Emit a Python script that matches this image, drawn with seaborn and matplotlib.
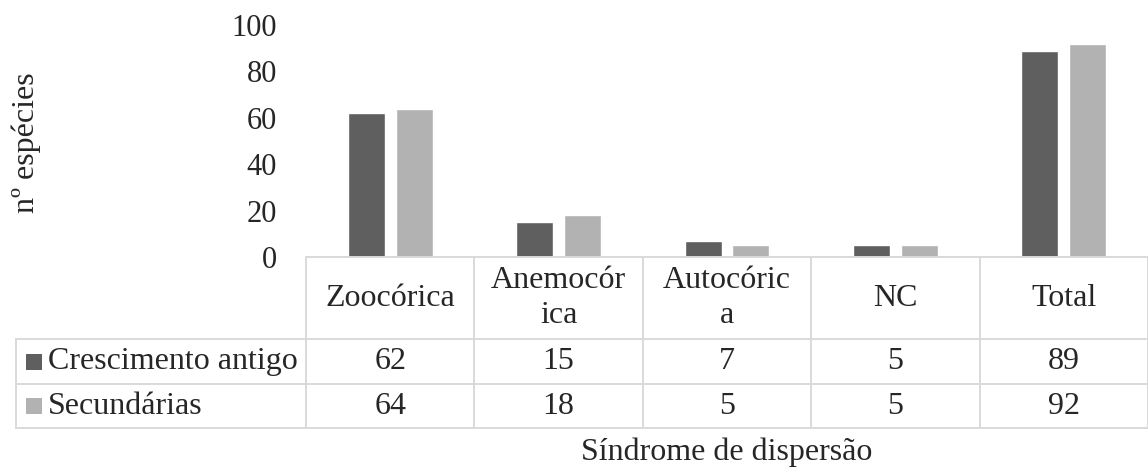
import matplotlib
matplotlib.use('Agg')
import matplotlib.pyplot as plt
import matplotlib.transforms as mtransforms
from matplotlib.lines import Line2D
from matplotlib.patches import Rectangle
import pandas as pd
import seaborn as sns

# data
categories = ['Zoocórica', 'Anemocórica', 'Autocórica', 'NC', 'Total']
header_labels = ['Zoocórica', 'Anemocór\nica', 'Autocóric\na', 'NC', 'Total']
series_names = ['Crescimento antigo', 'Secundárias']
crescimento_antigo = [62, 15, 7, 5, 89]
secundarias = [64, 18, 5, 5, 92]
y_ticks = [0, 20, 40, 60, 80, 100]

colors = ['#5f5f5f', '#b2b2b2']
grid_color = '#d9d9d9'
fs = 23

sns.set_style('white')
plt.rcParams['font.family'] = ['Liberation Serif', 'DejaVu Serif']

W, H = 1148, 473
fig = plt.figure(figsize=(W / 100, H / 100), dpi=100)


def fx(px):
    return px / W


def fy(py):
    return 1 - py / H


ax_left, ax_right, ax_top, ax_bottom = 306, 1148, 25, 257
ax = fig.add_axes([fx(ax_left), fy(ax_bottom), fx(ax_right - ax_left), fy(ax_top) - fy(ax_bottom)])

df = pd.DataFrame({
    'categoria': categories * 2,
    'grupo': [series_names[0]] * len(categories) + [series_names[1]] * len(categories),
    'n': crescimento_antigo + secundarias,
})

sns.barplot(data=df, x='categoria', y='n', hue='grupo', palette=colors,
            width=0.568, gap=0.23, ax=ax, legend=False, saturation=1)

ax.set_xlim(-0.5, len(categories) - 0.5)
ax.set_ylim(0, 100)
ax.set_yticks(y_ticks)
ax.tick_params(axis='y', length=0, labelsize=22, pad=21)
ax.set_xticks([])
ax.set_xlabel('')
ax.set_ylabel('')
for side in ['top', 'right', 'left', 'bottom']:
    ax.spines[side].set_visible(False)

fig.text(fx(26), fy(143), 'nº espécies', rotation=90, ha='center', va='center', fontsize=fs)

# data table below the axes
tr = mtransforms.blended_transform_factory(ax.transData, fig.transFigure)
row_lines = [339, 384, 428]
lw = 1.4

fig.add_artist(Line2D([fx(ax_left), fx(ax_right)], [fy(ax_bottom), fy(ax_bottom)],
                      color=grid_color, lw=lw))
for py in row_lines:
    fig.add_artist(Line2D([fx(16), fx(ax_right)], [fy(py), fy(py)], color=grid_color, lw=lw))
fig.add_artist(Line2D([fx(16), fx(16)], [fy(row_lines[0]), fy(row_lines[-1])],
                      color=grid_color, lw=lw))
for i in range(len(categories) + 1):
    fig.add_artist(Line2D([i - 0.5, i - 0.5], [fy(ax_bottom), fy(row_lines[-1])],
                          color=grid_color, lw=lw, transform=tr))

for i, label in enumerate(header_labels):
    fig.text(i, fy((ax_bottom + row_lines[0]) / 2), label, transform=tr,
             ha='center', va='center', fontsize=fs, linespacing=1.25)

for r, values in enumerate([crescimento_antigo, secundarias]):
    cy = (row_lines[r] + row_lines[r + 1]) / 2
    for i, v in enumerate(values):
        fig.text(i, fy(cy), str(v), transform=tr, ha='center', va='center', fontsize=fs)
    fig.add_artist(Rectangle((fx(26), fy(cy + 8)), fx(16), fy(cy - 8) - fy(cy + 8),
                             facecolor=colors[r], edgecolor='none'))
    fig.text(fx(48), fy(cy), series_names[r], ha='left', va='center', fontsize=fs)

fig.text(fx((ax_left + ax_right) / 2), fy(452), 'Síndrome de dispersão',
         ha='center', va='center', fontsize=fs)

fig.savefig('out.png', dpi=100, facecolor='white')
